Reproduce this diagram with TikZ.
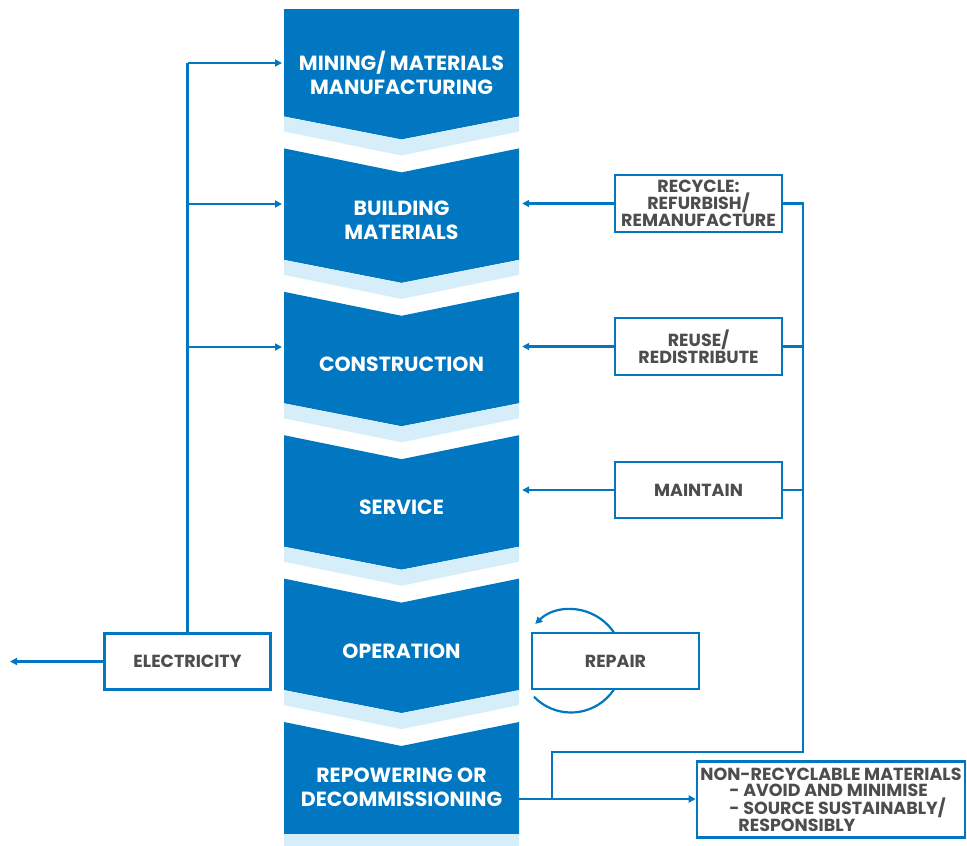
\documentclass[tikz,border=0pt]{standalone}
\usepackage{fontspec}
\setmainfont{Poppins}
\usetikzlibrary{arrows.meta}

\definecolor{stageblue}{HTML}{0077C0}
\definecolor{bandblue}{HTML}{D5EEFA}
\definecolor{boxgrey}{HTML}{4D4D4D}

\tikzset{
    stage node/.style={text=white, font=\fontsize{20.5}{24}\selectfont\bfseries, align=center, minimum width=235, inner sep=0},
    box node/.style={draw=stageblue, line width=2.6, fill=white, text=boxgrey, font=\fontsize{17.5}{17}\selectfont\bfseries, align=center, inner sep=0},
    link/.style={draw=stageblue, line width=2.2},
    link arrow/.style={link, -{Triangle[length=7,width=7]}}
    }

\begin{document}
\begin{tikzpicture}[x=1pt, y=-1pt]
    \useasboundingbox (0,0) rectangle (967,846);
    % chevrons
    \fill[stageblue] (284,9) -- (519,9) -- (519,116.5) -- (401.5,139.5) -- (284,116.5) -- cycle;
    \foreach \t in {148.4,291.8,435.2,578.6}
        \fill[stageblue] (284,\t) -- (401.5,\t+24) -- (519,\t) -- (519,\t+111.5) -- (401.5,\t+134.5) -- (284,\t+111.5) -- cycle;
    \foreach \t in {5,148.4,291.8,435.2,578.6}
        \fill[bandblue] (284,\t+111.5) -- (401.5,\t+134.5) -- (519,\t+111.5) -- (519,\t+126.5) -- (401.5,\t+150.5) -- (284,\t+126.5) -- cycle;
    \fill[stageblue] (284,722) -- (401.5,746) -- (519,722) -- (519,834) -- (284,834) -- cycle;
    \fill[bandblue] (284,834) rectangle (519,846);

    \node(s0)[stage node] at (401.5,73) {MINING/ MATERIALS\\MANUFACTURING};
    \node(s1)[stage node] at (401.5,220.5) {BUILDING\\MATERIALS};
    \node(s2)[stage node] at (401.5,364) {CONSTRUCTION};
    \node(s3)[stage node] at (401.5,507) {SERVICE};
    \node(s4)[stage node] at (401.5,651) {OPERATION};
    \node(s5)[stage node] at (401.5,787.5) {REPOWERING OR\\DECOMMISSIONING};

    % left side
    \node(elec)[box node, minimum width=166, minimum height=56] at (187.5,661.5) {ELECTRICITY};
    \coordinate (in0) at (282,63);
    \coordinate (in1) at (282,204);
    \coordinate (in2) at (282,347);
    \coordinate (grid) at (10,661.5);
    \draw[link] (elec.north) -- (elec.north |- in0);
    \foreach \i in {0,1,2}
        \draw[link arrow] (elec.north |- in\i) -- (in\i);
    \draw[link arrow] (elec.west) -- (grid);

    % right side
    \node(rec)[box node, minimum width=167, minimum height=57] at (698.5,203.5) {RECYCLE:\\REFURBISH/\\REMANUFACTURE};
    \node(reuse)[box node, minimum width=167, minimum height=57] at (698.5,346.5) {REUSE/\\REDISTRIBUTE};
    \node(maint)[box node, minimum width=167, minimum height=56] at (698.5,490) {MAINTAIN};
    \coordinate (rbus) at (803,752);
    \coordinate (junc) at (552,799);
    \foreach \b/\s in {rec/s1, reuse/s2, maint/s3}
        \draw[link arrow] (\b.west) -- ([xshift=3]\b.west -| \s.east);
    \draw[link] (rec.east) -| (rbus) -| (junc);
    \draw[link] (reuse.east) -- (reuse.east -| rbus);
    \draw[link] (maint.east) -- (maint.east -| rbus);

    % repair loop
    \coordinate (loop) at (571,661);
    \draw[link arrow] (loop) ++(136:51.5) arc[start angle=136, end angle=-134, radius=51.5];
    \node(repair)[box node, minimum width=167, minimum height=56] at (615.5,661) {REPAIR};

    % end of life
    \node(nonrec)[box node, minimum width=268, minimum height=76, align=left, font=\fontsize{17.5}{16.5}\selectfont\bfseries] at (831,799.5)
        {NON-RECYCLABLE MATERIALS\\\hspace*{29pt}- AVOID AND MINIMISE\\\hspace*{29pt}- SOURCE SUSTAINABLY/\\\hspace*{38pt}RESPONSIBLY};
    \draw[link arrow] (s5.east |- junc) -- (nonrec.west |- junc);
\end{tikzpicture}
\end{document}
